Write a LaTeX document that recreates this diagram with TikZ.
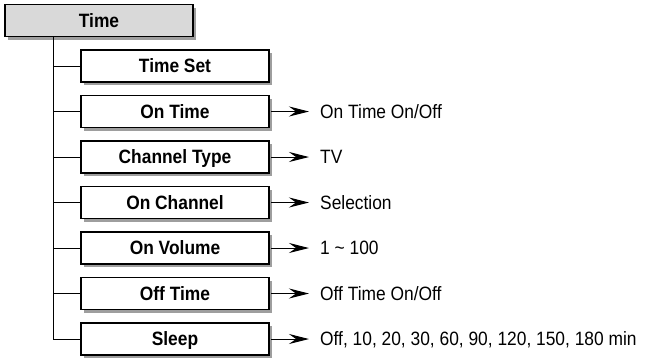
\documentclass[tikz,border=0pt]{standalone}
\usepackage{fontspec}
\setmainfont{Liberation Sans}
\newfontfamily\narrowsans[FakeStretch=0.9]{Liberation Sans}
\usetikzlibrary{arrows.meta,shadows}
\begin{document}
\begin{tikzpicture}[x=1pt,y=-1pt,
  menubox/.style={draw=black, line width=1.1pt, fill=white, minimum width=188pt, minimum height=32pt,
    inner sep=0pt, text height=13.6pt, text depth=0pt,
    font=\narrowsans\fontsize{19.3}{22}\selectfont\bfseries,
    drop shadow={shadow xshift=3pt, shadow yshift=-3pt, fill=black!38, opacity=1}},
  topbox/.style={menubox, fill=black!15},
  valtext/.style={anchor=west, inner sep=0pt, text height=13.6pt, text depth=0pt,
    font=\narrowsans\fontsize{19.3}{22}\selectfont},
  branch/.style={draw=black, line width=1pt},
  arr/.style={draw=black, line width=1pt, -{Stealth[length=20pt, width=10pt, inset=7pt]}, shorten >=11pt}]
\useasboundingbox (0,0) rectangle (654,360);
\node[topbox] (time) at (99,20.5) {Time};
\node[menubox] (c1) at (175,66) {Time Set};
\node[menubox] (c2) at (175,111.5) {On Time};
\node[menubox] (c3) at (175,157) {Channel Type};
\node[menubox] (c4) at (175,202.5) {On Channel};
\node[menubox] (c5) at (175,248) {On Volume};
\node[menubox] (c6) at (175,293.5) {Off Time};
\node[menubox] (c7) at (175,339) {Sleep};
\coordinate (tk) at (53,0);
\draw[branch] (tk |- time.south) |- (c7.west);
\foreach \i in {1,...,6} {\draw[branch] (tk |- c\i.west) -- (c\i.west);}
\node[valtext] (v2) at (320,111.5) {On Time On/Off};
\node[valtext] (v3) at (320,157) {TV};
\node[valtext] (v4) at (320,202.5) {Selection};
\node[valtext] (v5) at (320,248) {1 \char"7E{} 100};
\node[valtext] (v6) at (320,293.5) {Off Time On/Off};
\node[valtext] (v7) at (320,339) {Off, 10, 20, 30, 60, 90, 120, 150, 180 min};
\foreach \i in {2,...,7} {\draw[arr] ([xshift=1.5pt]c\i.east) -- (v\i.west);}
\end{tikzpicture}
\end{document}
